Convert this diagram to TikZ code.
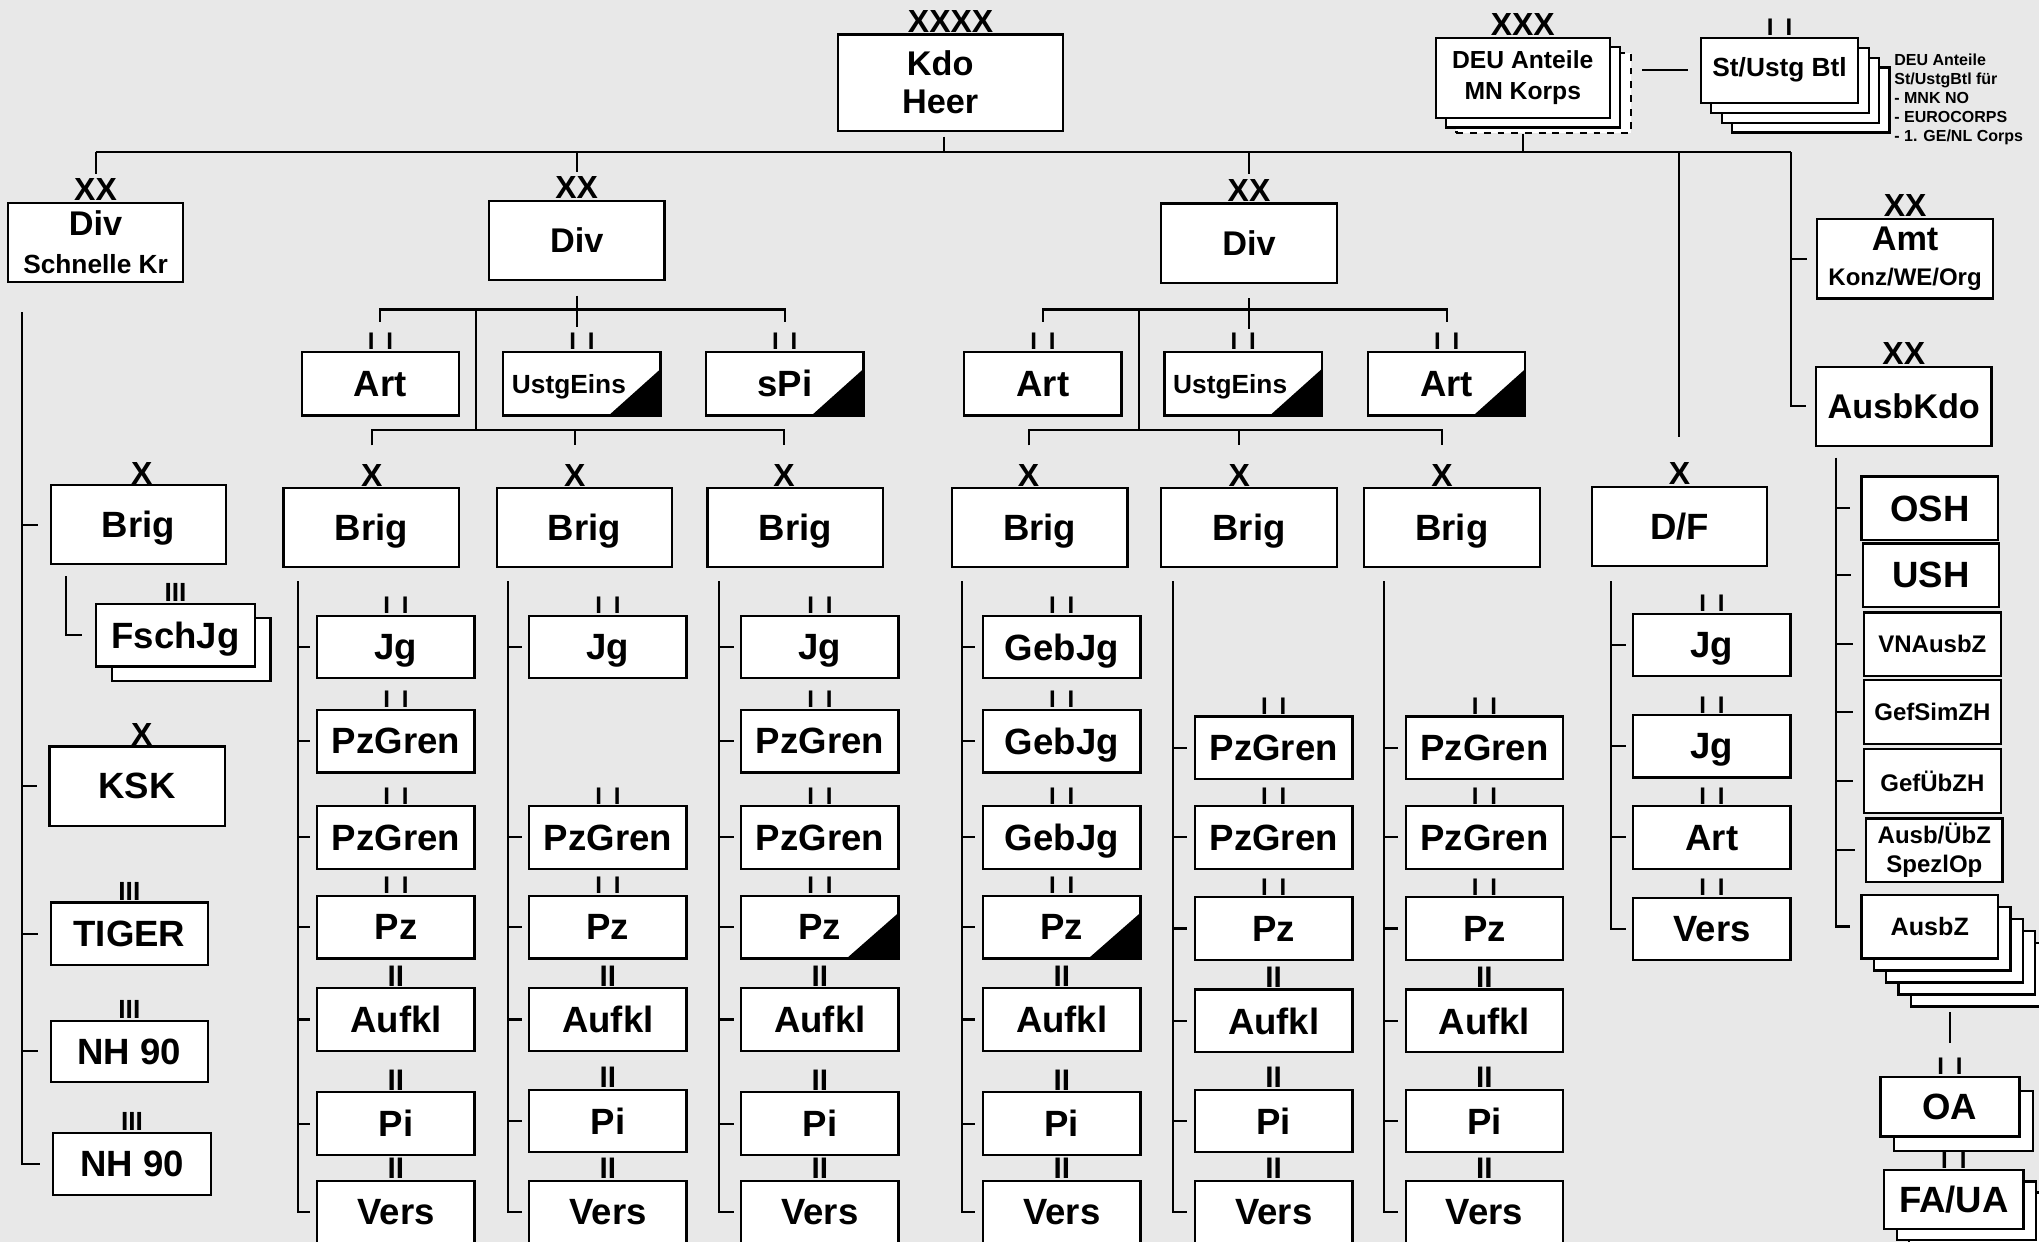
\documentclass[tikz,border=0pt]{standalone}
\usepackage{fontspec}
\setmainfont{Liberation Sans}
\usetikzlibrary{calc,shadows}
\definecolor{bgc}{HTML}{E8E8E8}

\begin{document}
\begin{tikzpicture}[x=0.02cm, y=-0.02cm, line width=0.9pt,
  box/.style={draw, fill=white, line width=1pt, align=center, inner sep=1pt, font=\bfseries\fontsize{16}{18}\selectfont},
  div/.style={box, minimum width=2.7cm, minimum height=1.22cm, font=\bfseries\fontsize{15}{16.5}\selectfont},
  large/.style={box, text depth=0pt, minimum width=2.7cm, minimum height=1.22cm},
  unit/.style={box, text depth=0pt, minimum width=2.42cm, minimum height=0.96cm},
  school/.style={box, minimum width=2.1cm, minimum height=0.98cm, font=\bfseries\fontsize{10.5}{12.5}\selectfont},
  tri/.style={path picture={\fill[black] (path picture bounding box.south east) -- ($(path picture bounding box.south east)!0.73!(path picture bounding box.north east)$) -- ($(path picture bounding box.south east)!0.33!(path picture bounding box.south west)$) -- cycle;}},
  ech/.style={anchor=south, inner sep=0pt, font=\bfseries\fontsize{14}{14}\selectfont},
  armee/.style={ech, node contents={XXXX}},
  korps/.style={ech, node contents={XXX}},
  divs/.style={ech, node contents={XX}},
  brigs/.style={ech, node contents={X}},
  regs/.style={ech, font=\bfseries\fontsize{11.5}{11.5}\selectfont, node contents={III}},
  btlb/.style={ech, font=\bfseries\fontsize{13}{13}\selectfont, node contents={II}},
  btls/.style={ech, font=\bfseries\fontsize{10.5}{10.5}\selectfont, node contents={I\hspace{5.2pt}I}}
]
  \path[use as bounding box, fill=bgc] (0,0) rectangle (1568,955);

  % top level
  \node[box, minimum width=3.46cm, minimum height=1.48cm, font=\bfseries\fontsize{15}{16.5}\selectfont] (kdo) at (731,63.5) {Kdo\hspace*{0.32cm}\\Heer\hspace*{0.32cm}};
  \node (kdoe) at (kdo.north) [armee];
  \node[box, dashed, minimum width=2.68cm, minimum height=1.24cm] (deub) at (1187,71.5) {};
  \node[box, minimum width=2.68cm, minimum height=1.24cm, font=\bfseries\fontsize{10.8}{13.5}\selectfont,
    copy shadow={shadow xshift=0.16cm, shadow yshift=-0.14cm}] (deu) at (1171,60) {DEU Anteile\\MN Korps};
  \node (deue) at (deu.north) [korps];
  \node[box, minimum width=2.42cm, minimum height=1cm, font=\bfseries\fontsize{11.5}{13}\selectfont,
    copy shadow={shadow xshift=0.48cm, shadow yshift=-0.46cm},
    copy shadow={shadow xshift=0.32cm, shadow yshift=-0.31cm},
    copy shadow={shadow xshift=0.16cm, shadow yshift=-0.155cm}] (st) at (1368.5,54) {St/Ustg Btl};
  \node (ste) at (st.north) [btls];
  \node[anchor=west, inner sep=0pt, align=left, font=\bfseries\fontsize{7}{8.4}\selectfont] (stnote) at (1456,76.5)
    {DEU Anteile\\St/UstgBtl für\\- MNK NO\\- EUROCORPS\\- 1. GE/NL Corps};

  % divisions
  \node[div] (dsk) at (73.5,186.5) {Div\\{\fontsize{11.5}{13}\selectfont Schnelle Kr}};
  \node (dske) at (dsk.north) [divs];
  \node[div] (div2) at (443.5,185) {Div};
  \node (div2e) at (div2.north) [divs];
  \node[div] (div3) at (960.5,187) {Div};
  \node (div3e) at (div3.north) [divs];
  \node[div, font=\bfseries\fontsize{15}{15.4}\selectfont] (amt) at (1465,199) {Amt\\{\fontsize{10.5}{12}\selectfont Konz/WE/Org}};
  \node (amte) at (amt.north) [divs];
  \node[div] (ausbkdo) at (1464,312.5) {AusbKdo};
  \node (ausbkdoe) at (ausbkdo.north) [divs];

  % division troops
  \node[unit, minimum height=0.98cm] (art2) at (292.5,295) {Art}; \node (art2e) at (art2.north) [btls];
  \node[unit, minimum height=0.98cm, tri, font=\bfseries\fontsize{11.5}{13}\selectfont] (ustg2) at (447.5,295) {UstgEins\hspace*{0.4cm}}; \node (ustg2e) at (ustg2.north) [btls];
  \node[unit, minimum height=0.98cm, tri] (spi2) at (603.5,295) {sPi}; \node (spi2e) at (spi2.north) [btls];
  \node[unit, minimum height=0.98cm] (art3) at (802,295) {Art}; \node (art3e) at (art3.north) [btls];
  \node[unit, minimum height=0.98cm, tri, font=\bfseries\fontsize{11.5}{13}\selectfont] (ustg3) at (956,295) {UstgEins\hspace*{0.4cm}}; \node (ustg3e) at (ustg3.north) [btls];
  \node[unit, minimum height=0.98cm, tri] (art3b) at (1112.5,295) {Art}; \node (art3be) at (art3b.north) [btls];

  % brigades
  \node[large] (brsk) at (106.5,403.5) {Brig}; \node (brske) at (109,373) [brigs];
  \node[large] (br1) at (285.5,405.5) {Brig}; \node (br1e) at (286,375) [brigs];
  \node[large] (br2) at (449.5,405.5) {Brig}; \node (br2e) at (442,375) [brigs];
  \node[large] (br3) at (611.5,405.5) {Brig}; \node (br3e) at (603,375) [brigs];
  \node[large] (br4) at (799.5,405.5) {Brig}; \node (br4e) at (791,375) [brigs];
  \node[large] (br5) at (960.5,405.5) {Brig}; \node (br5e) at (953,375) [brigs];
  \node[large] (br6) at (1116.5,405.5) {Brig}; \node (br6e) at (1109,375) [brigs];
  \node[large] (df) at (1291.5,405) {D/F}; \node (dfe) at (df.north) [brigs];

  % Div Schnelle Kr
  \node[unit, minimum width=2.44cm, copy shadow={shadow xshift=0.24cm, shadow yshift=-0.22cm}] (fsch) at (135,488.5) {FschJg}; \node (fsche) at (fsch.north) [regs];
  \node[large] (ksk) at (105.5,604.5) {KSK}; \node (kske) at (109,574) [brigs];
  \node[unit] (tiger) at (99.5,718) {TIGER}; \node (tigere) at (tiger.north) [regs];
  \node[unit, minimum height=0.94cm] (nh1) at (99.5,808.5) {NH 90}; \node (nh1e) at (nh1.north) [regs];
  \node[unit] (nh2) at (101.5,895) {NH 90}; \node (nh2e) at (nh2.north) [regs];

  % battalions
  \node[unit] (jg1) at (304.5,497.5) {Jg}; \node (jg1e) at (jg1.north) [btls];
  \node[unit] (pg1a) at (304.5,570) {PzGren}; \node (pg1ae) at (pg1a.north) [btls];
  \node[unit] (pg1b) at (304.5,644) {PzGren}; \node (pg1be) at (pg1b.north) [btls];
  \node[unit] (pz1) at (304.5,713) {Pz}; \node (pz1e) at (pz1.north) [btls];
  \node[unit] (auf1) at (304.5,784) {Aufkl}; \node (auf1e) at (auf1.north) [btlb];
  \node[unit] (pi1) at (304.5,864) {Pi}; \node (pi1e) at (pi1.north) [btlb];
  \node[unit] (vers1) at (304.5,932) {Vers}; \node (vers1e) at (vers1.north) [btlb];

  \node[unit] (jg2) at (467.5,497.5) {Jg}; \node (jg2e) at (jg2.north) [btls];
  \node[unit] (pg2) at (467.5,644) {PzGren}; \node (pg2e) at (pg2.north) [btls];
  \node[unit] (pz2) at (467.5,713) {Pz}; \node (pz2e) at (pz2.north) [btls];
  \node[unit] (auf2) at (467.5,784) {Aufkl}; \node (auf2e) at (auf2.north) [btlb];
  \node[unit] (pi2) at (467.5,862) {Pi}; \node (pi2e) at (pi2.north) [btlb];
  \node[unit] (vers2) at (467.5,932) {Vers}; \node (vers2e) at (vers2.north) [btlb];

  \node[unit] (jg3) at (630.5,497.5) {Jg}; \node (jg3e) at (jg3.north) [btls];
  \node[unit] (pg3a) at (630.5,570) {PzGren}; \node (pg3ae) at (pg3a.north) [btls];
  \node[unit] (pg3b) at (630.5,644) {PzGren}; \node (pg3be) at (pg3b.north) [btls];
  \node[unit, tri] (pz3) at (630.5,713) {Pz}; \node (pz3e) at (pz3.north) [btls];
  \node[unit] (auf3) at (630.5,784) {Aufkl}; \node (auf3e) at (auf3.north) [btlb];
  \node[unit] (pi3) at (630.5,864) {Pi}; \node (pi3e) at (pi3.north) [btlb];
  \node[unit] (vers3) at (630.5,932) {Vers}; \node (vers3e) at (vers3.north) [btlb];

  \node[unit] (gj4a) at (816.5,497.5) {GebJg}; \node (gj4ae) at (gj4a.north) [btls];
  \node[unit] (gj4b) at (816.5,570) {GebJg}; \node (gj4be) at (gj4b.north) [btls];
  \node[unit] (gj4c) at (816.5,644) {GebJg}; \node (gj4ce) at (gj4c.north) [btls];
  \node[unit, tri] (pz4) at (816.5,713) {Pz}; \node (pz4e) at (pz4.north) [btls];
  \node[unit] (auf4) at (816.5,784) {Aufkl}; \node (auf4e) at (auf4.north) [btlb];
  \node[unit] (pi4) at (816.5,864) {Pi}; \node (pi4e) at (pi4.north) [btlb];
  \node[unit] (vers4) at (816.5,932) {Vers}; \node (vers4e) at (vers4.north) [btlb];

  \node[unit] (pg5a) at (979.5,575) {PzGren}; \node (pg5ae) at (pg5a.north) [btls];
  \node[unit] (pg5b) at (979.5,644) {PzGren}; \node (pg5be) at (pg5b.north) [btls];
  \node[unit] (pz5) at (979.5,714) {Pz}; \node (pz5e) at (pz5.north) [btls];
  \node[unit] (auf5) at (979.5,785) {Aufkl}; \node (auf5e) at (auf5.north) [btlb];
  \node[unit] (pi5) at (979.5,862) {Pi}; \node (pi5e) at (pi5.north) [btlb];
  \node[unit] (vers5) at (979.5,932) {Vers}; \node (vers5e) at (vers5.north) [btlb];

  \node[unit] (pg6a) at (1141.5,575) {PzGren}; \node (pg6ae) at (pg6a.north) [btls];
  \node[unit] (pg6b) at (1141.5,644) {PzGren}; \node (pg6be) at (pg6b.north) [btls];
  \node[unit] (pz6) at (1141.5,714) {Pz}; \node (pz6e) at (pz6.north) [btls];
  \node[unit] (auf6) at (1141.5,785) {Aufkl}; \node (auf6e) at (auf6.north) [btlb];
  \node[unit] (pi6) at (1141.5,862) {Pi}; \node (pi6e) at (pi6.north) [btlb];
  \node[unit] (vers6) at (1141.5,932) {Vers}; \node (vers6e) at (vers6.north) [btlb];

  \node[unit] (jgd1) at (1316.5,496) {Jg}; \node (jgd1e) at (jgd1.north) [btls];
  \node[unit] (jgd2) at (1316.5,574) {Jg}; \node (jgd2e) at (jgd2.north) [btls];
  \node[unit] (artd) at (1316.5,644) {Art}; \node (artde) at (artd.north) [btls];
  \node[unit] (versd) at (1316.5,714.5) {Vers}; \node (versde) at (versd.north) [btls];

  % training
  \node[school, font=\bfseries\fontsize{16}{18}\selectfont] (osh) at (1484,391) {OSH};
  \node[school, font=\bfseries\fontsize{16}{18}\selectfont] (ush) at (1485,442.5) {USH};
  \node[school] (vna) at (1486,495.5) {VNAusbZ};
  \node[school] (gfs) at (1486,547.5) {GefSimZH};
  \node[school] (gfu) at (1486,600.5) {GefÜbZH};
  \node[school] (spez) at (1487.5,654) {Ausb/ÜbZ\\SpezlOp};
  \node[school, font=\bfseries\fontsize{11}{13}\selectfont,
    copy shadow={shadow xshift=0.76cm, shadow yshift=-0.74cm},
    copy shadow={shadow xshift=0.57cm, shadow yshift=-0.555cm},
    copy shadow={shadow xshift=0.38cm, shadow yshift=-0.37cm},
    copy shadow={shadow xshift=0.19cm, shadow yshift=-0.185cm}] (ausbz) at (1484,712.5) {AusbZ};
  \node[box, minimum width=2.14cm, minimum height=0.92cm, copy shadow={shadow xshift=0.21cm, shadow yshift=-0.22cm}] (oa) at (1499.5,851) {OA};
  \node (oae) at (oa.north) [btls];
  \node[box, minimum width=2.14cm, minimum height=0.9cm,
    copy shadow={shadow xshift=0.38cm, shadow yshift=-0.34cm},
    copy shadow={shadow xshift=0.19cm, shadow yshift=-0.17cm}] (faua) at (1502.5,922.5) {FA/UA};
  \node (fauae) at (faua.north) [btls];

  % connectors
  \coordinate (busl) at (73.5,117);
  \coordinate (busr) at (1377,117);
  \coordinate (kst) at (726,105);
  \draw (busl) -- (busr);
  \draw (kst) -- (kst |- busl);
  \draw (deu.south |- deub.south) -- (deu.south |- busl);
  \draw ($(deu.east |- st.west)+(24,0)$) -- ($(st.west)+(-9,0)$);
  \draw (busl) -- ($(dske.north)+(0,-3)$);
  \draw (div2e.north |- busl) -- ($(div2e.north)+(0,-3)$);
  \draw (div3e.north |- busl) -- ($(div3e.north)+(0,-3)$);
  \draw (dfe.north |- busl) -- ($(dfe.north)+(0,-19)$);
  \draw (busr) |- ([xshift=-1.4mm]ausbkdo.west);
  \draw (busr |- amt.west) -- ([xshift=-1.4mm]amt.west);

  \coordinate (h2) at (445,238);
  \coordinate (g2) at (366,331);
  \draw ($(div2.south)+(0,11)$) -- ($(div2.south)+(0,35)$);
  \draw ($(art2e.north)+(0,-8)$) |- (h2) -| ($(spi2e.north)+(0,-8)$);
  \draw (g2 |- h2) -- (g2);
  \draw ($(br1e.north)+(0,-14)$) |- (g2) -| ($(br3e.north)+(0,-14)$);
  \draw (br2e.north |- g2) -- ($(br2e.north)+(0,-14)$);

  \coordinate (h3) at (957,238);
  \coordinate (g3) at (876,331);
  \draw ($(div3.south)+(0,11)$) -- ($(div3.south)+(0,35)$);
  \draw ($(art3e.north)+(0,-8)$) |- (h3) -| ($(art3be.north)+(0,-8)$);
  \draw (g3 |- h3) -- (g3);
  \draw ($(br4e.north)+(0,-14)$) |- (g3) -| ($(br6e.north)+(0,-14)$);
  \draw (br5e.north |- g3) -- ($(br5e.north)+(0,-14)$);

  \coordinate (ks) at (17,240);
  \coordinate (kf) at (51,443);
  \draw (ks) |- ([xshift=-1.8mm]nh2.west)
    (ks |- brsk.west) -- ([xshift=-1.8mm]brsk.west)
    (ks |- ksk.west) -- ([xshift=-1.8mm]ksk.west)
    (ks |- tiger.west) -- ([xshift=-1.8mm]tiger.west)
    (ks |- nh1.west) -- ([xshift=-1.8mm]nh1.west);
  \draw (kf) |- ([xshift=-2mm]fsch.west);

  \coordinate (k1) at (229,447);
  \draw (k1) |- ([xshift=-1mm]vers1.west)
    (k1 |- jg1.west) -- ([xshift=-1mm]jg1.west)
    (k1 |- pg1a.west) -- ([xshift=-1mm]pg1a.west)
    (k1 |- pg1b.west) -- ([xshift=-1mm]pg1b.west)
    (k1 |- pz1.west) -- ([xshift=-1mm]pz1.west)
    (k1 |- auf1.west) -- ([xshift=-1mm]auf1.west)
    (k1 |- pi1.west) -- ([xshift=-1mm]pi1.west);
  \coordinate (k2) at (391,447);
  \draw (k2) |- ([xshift=-1mm]vers2.west)
    (k2 |- jg2.west) -- ([xshift=-1mm]jg2.west)
    (k2 |- pg2.west) -- ([xshift=-1mm]pg2.west)
    (k2 |- pz2.west) -- ([xshift=-1mm]pz2.west)
    (k2 |- auf2.west) -- ([xshift=-1mm]auf2.west)
    (k2 |- pi2.west) -- ([xshift=-1mm]pi2.west);
  \coordinate (k3) at (553,447);
  \draw (k3) |- ([xshift=-1mm]vers3.west)
    (k3 |- jg3.west) -- ([xshift=-1mm]jg3.west)
    (k3 |- pg3a.west) -- ([xshift=-1mm]pg3a.west)
    (k3 |- pg3b.west) -- ([xshift=-1mm]pg3b.west)
    (k3 |- pz3.west) -- ([xshift=-1mm]pz3.west)
    (k3 |- auf3.west) -- ([xshift=-1mm]auf3.west)
    (k3 |- pi3.west) -- ([xshift=-1mm]pi3.west);
  \coordinate (k4) at (740,447);
  \draw (k4) |- ([xshift=-1mm]vers4.west)
    (k4 |- gj4a.west) -- ([xshift=-1mm]gj4a.west)
    (k4 |- gj4b.west) -- ([xshift=-1mm]gj4b.west)
    (k4 |- gj4c.west) -- ([xshift=-1mm]gj4c.west)
    (k4 |- pz4.west) -- ([xshift=-1mm]pz4.west)
    (k4 |- auf4.west) -- ([xshift=-1mm]auf4.west)
    (k4 |- pi4.west) -- ([xshift=-1mm]pi4.west);
  \coordinate (k5) at (902,447);
  \draw (k5) |- ([xshift=-1mm]vers5.west)
    (k5 |- pg5a.west) -- ([xshift=-1mm]pg5a.west)
    (k5 |- pg5b.west) -- ([xshift=-1mm]pg5b.west)
    (k5 |- pz5.west) -- ([xshift=-1mm]pz5.west)
    (k5 |- auf5.west) -- ([xshift=-1mm]auf5.west)
    (k5 |- pi5.west) -- ([xshift=-1mm]pi5.west);
  \coordinate (k6) at (1064,447);
  \draw (k6) |- ([xshift=-1mm]vers6.west)
    (k6 |- pg6a.west) -- ([xshift=-1mm]pg6a.west)
    (k6 |- pg6b.west) -- ([xshift=-1mm]pg6b.west)
    (k6 |- pz6.west) -- ([xshift=-1mm]pz6.west)
    (k6 |- auf6.west) -- ([xshift=-1mm]auf6.west)
    (k6 |- pi6.west) -- ([xshift=-1mm]pi6.west);
  \coordinate (kd) at (1239,447);
  \draw (kd) |- ([xshift=-1mm]versd.west)
    (kd |- jgd1.west) -- ([xshift=-1mm]jgd1.west)
    (kd |- jgd2.west) -- ([xshift=-1mm]jgd2.west)
    (kd |- artd.west) -- ([xshift=-1mm]artd.west);
  \coordinate (ka) at (1412,352);
  \draw (ka) |- ([xshift=-1.6mm]ausbz.west)
    (ka |- osh.west) -- ([xshift=-1.6mm]osh.west)
    (ka |- ush.west) -- ([xshift=-1.6mm]ush.west)
    (ka |- vna.west) -- ([xshift=-1.6mm]vna.west)
    (ka |- gfs.west) -- ([xshift=-1.6mm]gfs.west)
    (ka |- gfu.west) -- ([xshift=-1.6mm]gfu.west)
    (ka |- spez.west) -- ([xshift=-1.6mm]spez.west);
  \draw ($(oae.north)+(0,-11)$) -- ($(oae.north)+(0,-35)$);
\end{tikzpicture}
\end{document}
